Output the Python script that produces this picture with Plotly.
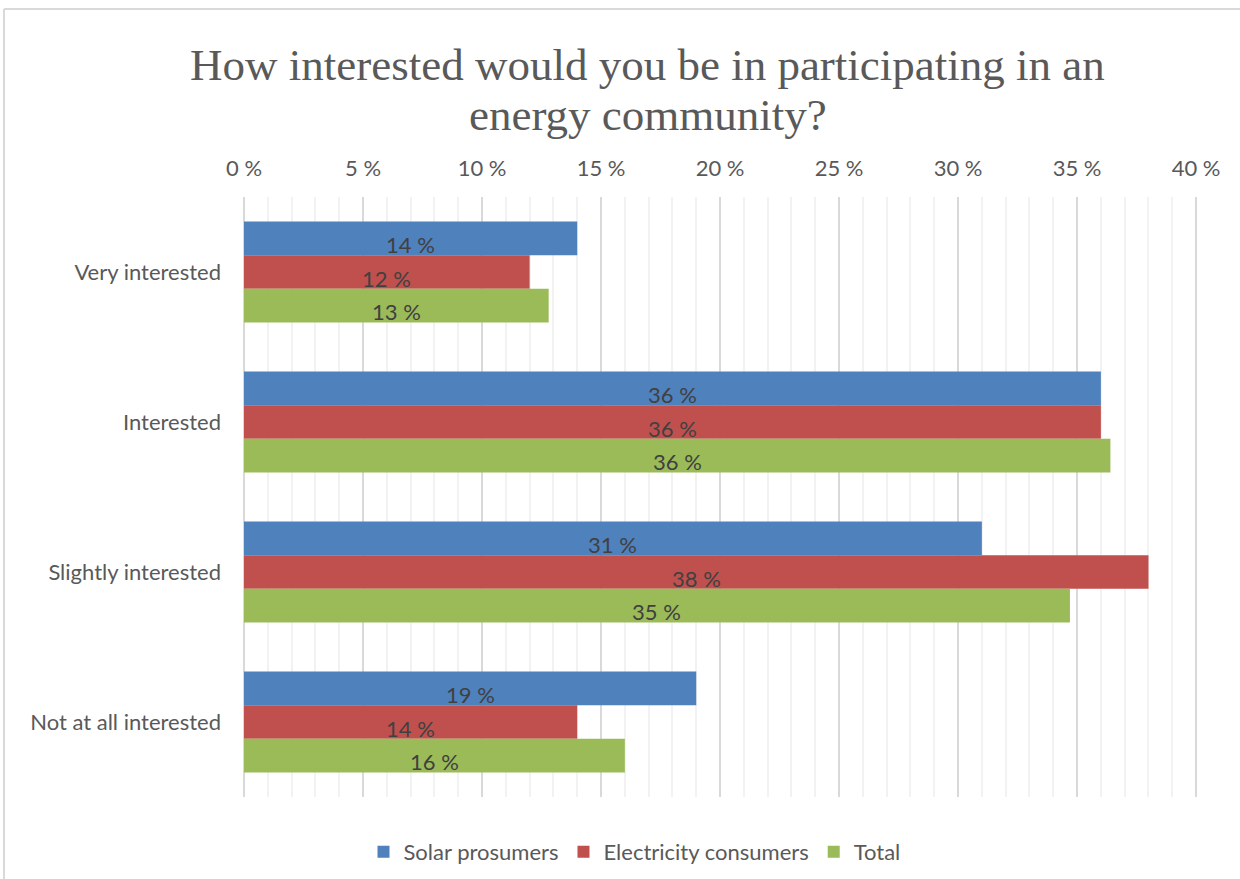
import plotly.graph_objects as go

categories = ["Very interested", "Interested", "Slightly interested", "Not at all interested"]
series_names = ["Solar prosumers", "Electricity consumers", "Total"]
solar = [14.0, 36.0, 31.0, 19.0]
consumers = [12.0, 36.0, 38.0, 14.0]
total = [12.8, 36.4, 34.7, 16.0]
colors = ["#4F81BD", "#C0504D", "#9BBB59"]
xticks = [0, 5, 10, 15, 20, 25, 30, 35, 40]
title_lines = ["How interested would you be in participating in an", "energy community?"]

W, H = 1240, 879
ml, mr, mt, mb = 244, 42, 197, 82
pw, ph = W - ml - mr, H - mt - mb
bargap = 0.327
FONT = "Lato"
FS = 22

fig = go.Figure()
all_vals = [solar, consumers, total]
for name, vals, col in zip(series_names, all_vals, colors):
    fig.add_trace(go.Bar(
        y=categories, x=vals, name=name, orientation="h",
        marker=dict(color=col, line=dict(width=0)),
    ))

# data labels (slightly below bar centre, as in the original)
bar_px = ph / len(categories) * (1 - bargap) / len(series_names)
for i, vals in enumerate(all_vals):
    for cat, v in zip(categories, vals):
        fig.add_annotation(
            x=v / 2, y=cat, xref="x", yref="y",
            text=f"{round(v):.0f} %", showarrow=False,
            yshift=(1 - i) * bar_px - 6,
            font=dict(family=FONT, size=FS, color="#404040"),
        )

# title as two lines
for k, (line, ypix) in enumerate(zip(title_lines, [65, 115])):
    fig.add_annotation(
        x=(647.5 - ml) / pw, y=(H - mb - ypix) / ph, xref="paper", yref="paper",
        text=line, showarrow=False, xanchor="center", yanchor="middle",
        font=dict(family="Liberation Serif", size=45, color="#595959"),
    )

fig.update_layout(
    width=W, height=H,
    margin=dict(l=ml, r=mr, t=mt, b=mb),
    paper_bgcolor="white", plot_bgcolor="white",
    barmode="group", bargap=bargap, bargroupgap=0,
    font=dict(family=FONT, size=FS, color="#595959"),
    legend=dict(
        orientation="h", x=634.5 / W, xref="container", xanchor="center",
        y=1 - 852 / H, yref="container", yanchor="middle",
        font=dict(family=FONT, size=FS, color="#595959"),
        itemwidth=30, traceorder="normal",
    ),
    showlegend=True,
)

fig.update_xaxes(
    side="top", range=[0, 40.08], tickvals=xticks,
    ticktext=[f"{t} %" for t in xticks],
    showgrid=True, gridcolor="#D9D9D9", gridwidth=2,
    minor=dict(dtick=1, showgrid=True, gridcolor="#F2F2F2", gridwidth=2),
    zeroline=True, zerolinecolor="#D9D9D9", zerolinewidth=2,
    showline=False, ticks="", ticklabelstandoff=16,
    tickfont=dict(family=FONT, size=FS, color="#595959"),
)
fig.update_yaxes(
    autorange="reversed", showgrid=False, showline=False, ticks="",
    ticklabelstandoff=22,
    tickfont=dict(family=FONT, size=FS, color="#595959"),
)

# chart border (light gray frame)
x_left = (4 - ml) / pw
y_top = 1 + (mt - 9) / ph
fig.add_shape(type="line", xref="paper", yref="paper",
              x0=x_left, x1=x_left, y0=y_top, y1=-0.3,
              line=dict(color="#D9D9D9", width=2))
fig.add_shape(type="line", xref="paper", yref="paper",
              x0=x_left, x1=1.2, y0=y_top, y1=y_top,
              line=dict(color="#D9D9D9", width=2))

fig.write_html("out.html")
